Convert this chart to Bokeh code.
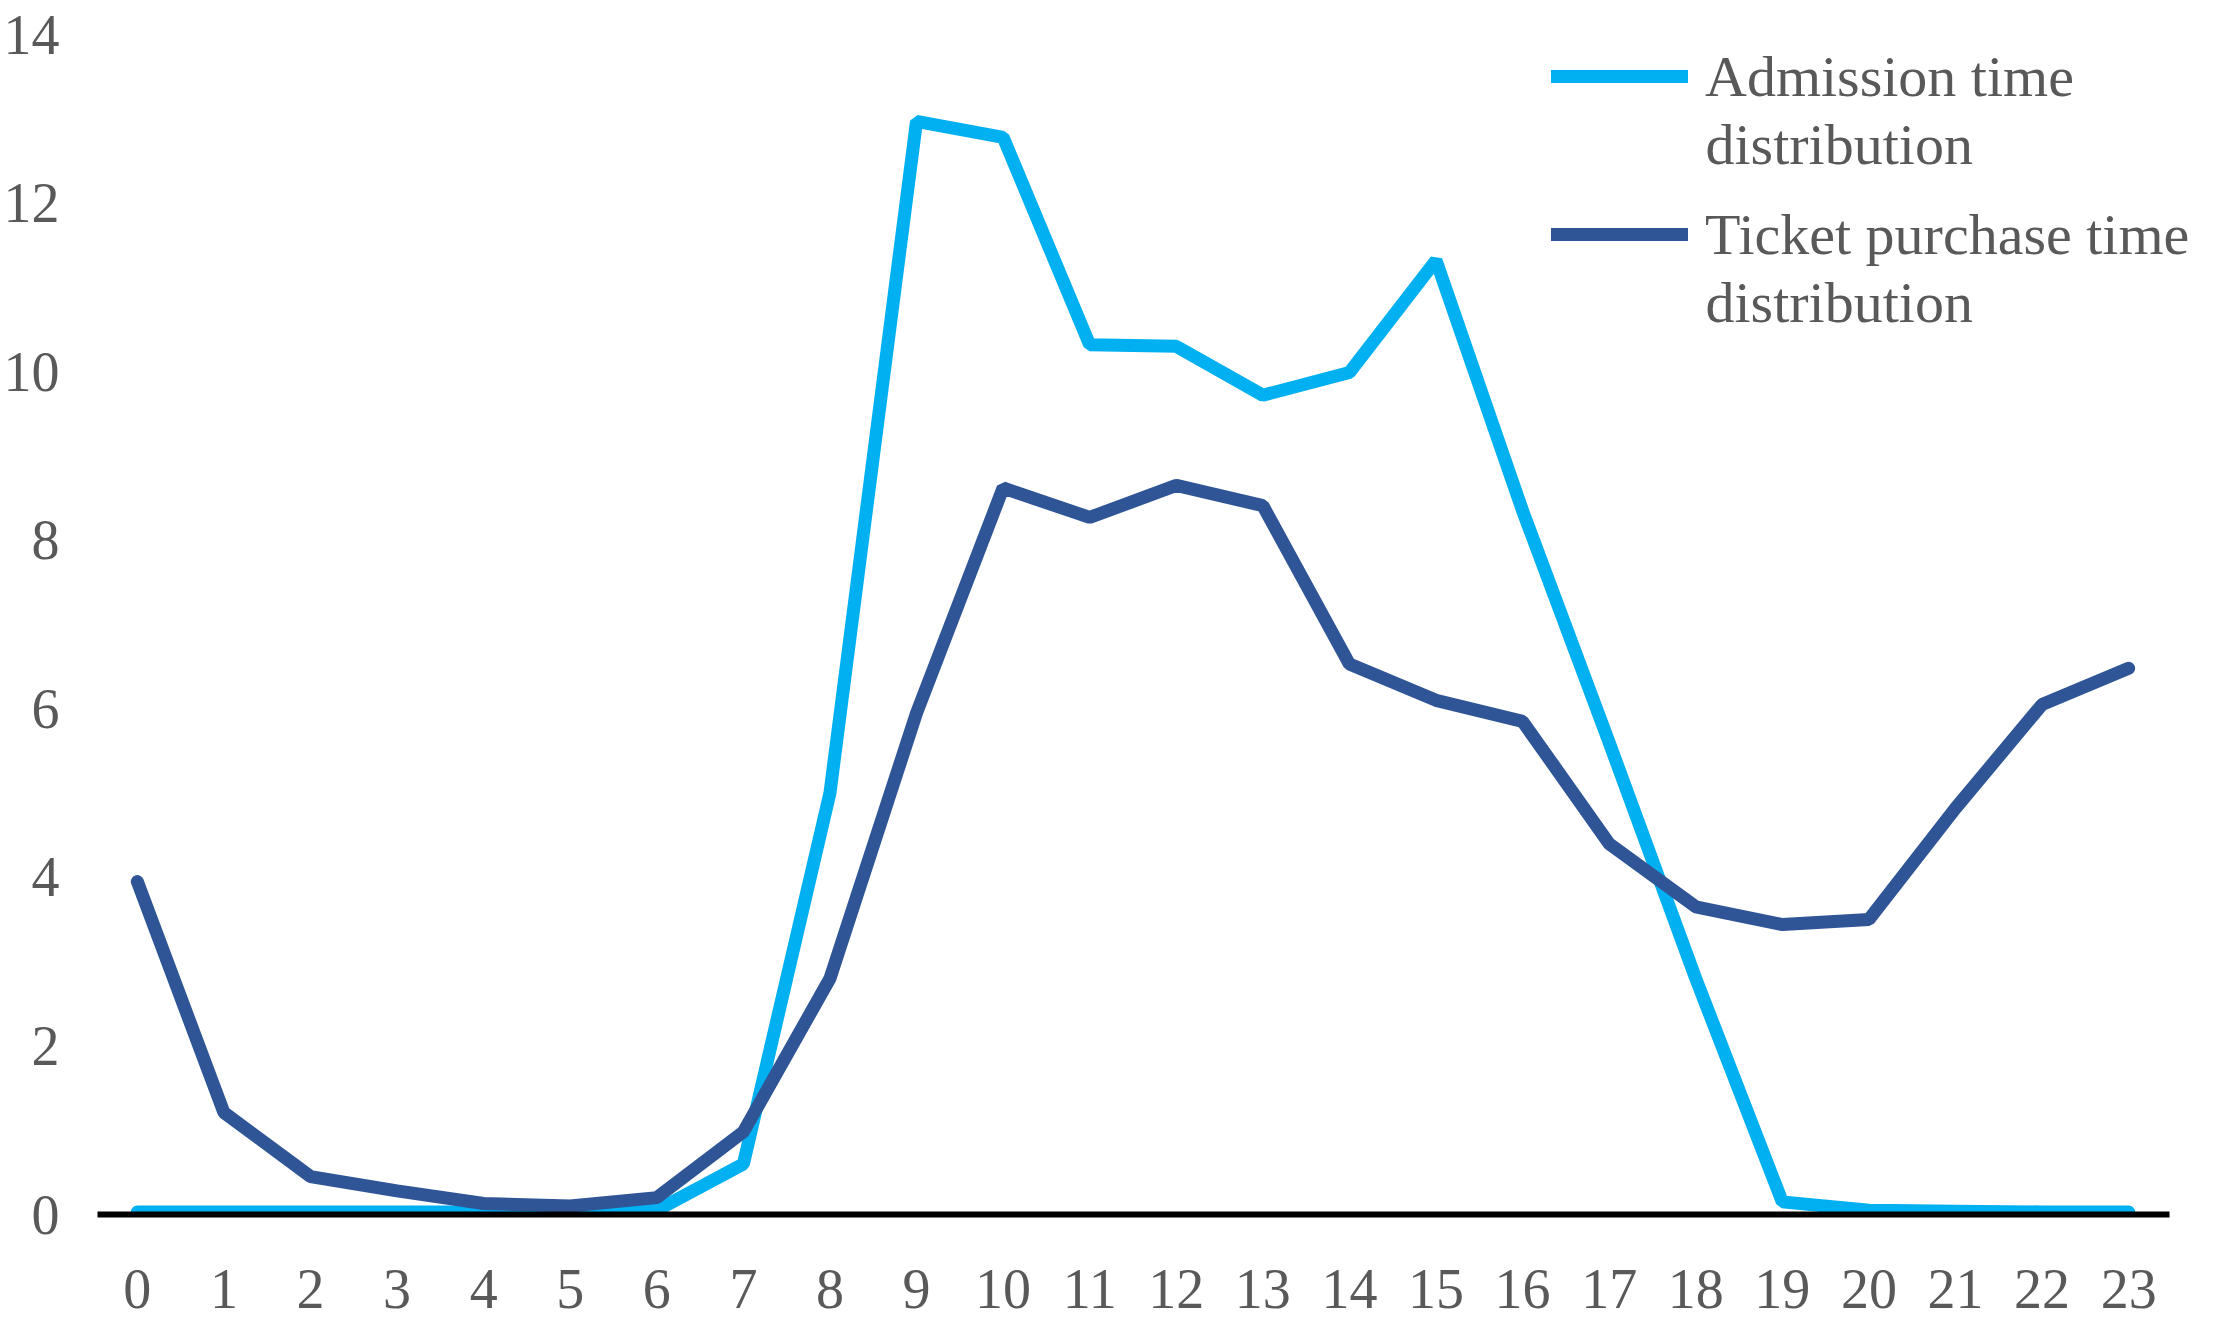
from bokeh.plotting import figure
from bokeh.models import Range1d, Legend, LegendItem, FixedTicker, Label
from bokeh.embed import file_html
from bokeh.resources import INLINE

hours = list(range(24))
admission = [0.03, 0.03, 0.03, 0.03, 0.03, 0.03, 0.05, 0.6, 5.0, 12.97, 12.78, 10.32,
             10.3, 9.72, 9.99, 11.32, 8.35, 5.6, 2.8, 0.15, 0.05, 0.04, 0.03, 0.03]
ticket = [3.95, 1.21, 0.45, 0.28, 0.13, 0.1, 0.2, 0.98, 2.8, 5.95, 8.62, 8.27,
          8.65, 8.41, 6.53, 6.1, 5.85, 4.4, 3.65, 3.44, 3.5, 4.82, 6.05, 6.48]
x_ticks = list(range(24))
y_ticks = [0, 2, 4, 6, 8, 10, 12, 14]
label_first = ["Admission time", "Ticket purchase time"]
label_second = ["distribution", "distribution"]
colors = ["#00B0F0", "#2F5597"]

FONT = "Liberation Serif"
FS = "56px"
LFS = "58px"
TXT = "#595959"

X_START, X_AXIS_END, X_END = -0.46, 23.47, 23.83

p = figure(width=2200, height=1320, output_backend="svg", toolbar_location=None,
           x_range=Range1d(X_START, X_END), y_range=Range1d(0, 14),
           min_border_left=94, min_border_right=0, min_border_top=34,
           min_border_bottom=106)
p.outline_line_color = None
p.grid.visible = False
p.background_fill_color = "white"
p.border_fill_color = "white"

r1 = p.line(hours, admission, line_color=colors[0], line_width=13, line_cap="round")
r2 = p.line(hours, ticket, line_color=colors[1], line_width=13, line_cap="round")

xa = p.xaxis[0]
xa.ticker = FixedTicker(ticks=x_ticks)
xa.bounds = (X_START, X_AXIS_END)
xa.axis_line_color = "black"
xa.axis_line_width = 6
xa.major_tick_line_color = None
xa.minor_tick_line_color = None
xa.major_tick_out = 0
xa.major_tick_in = 0
xa.major_label_standoff = 55
xa.major_label_text_font = FONT
xa.major_label_text_font_size = FS
xa.major_label_text_color = TXT

ya = p.yaxis[0]
ya.ticker = FixedTicker(ticks=y_ticks)
ya.axis_line_color = None
ya.major_tick_line_color = None
ya.minor_tick_line_color = None
ya.major_tick_out = 0
ya.major_tick_in = 0
ya.major_label_standoff = 38
ya.major_label_text_font = FONT
ya.major_label_text_font_size = FS
ya.major_label_text_color = TXT

legend = Legend(items=[LegendItem(label=label_first[0], renderers=[r1]),
                       LegendItem(label=label_first[1], renderers=[r2])],
                location=(1454, 942))
legend.label_text_font = FONT
legend.label_text_font_size = LFS
legend.label_text_color = TXT
legend.glyph_width = 137
legend.glyph_height = 76
legend.label_standoff = 17
legend.spacing = 82
legend.padding = 0
legend.margin = 0
legend.border_line_color = None
legend.background_fill_alpha = 0
p.add_layout(legend, "center")

for txt, yy in zip(label_second, [1070, 912]):
    p.add_layout(Label(x=1608, y=yy, x_units="screen", y_units="screen", text=txt,
                       text_font=FONT, text_font_size=LFS, text_color=TXT,
                       text_align="left", text_baseline="middle"))

open("out.html", "w").write(file_html(p, INLINE))
